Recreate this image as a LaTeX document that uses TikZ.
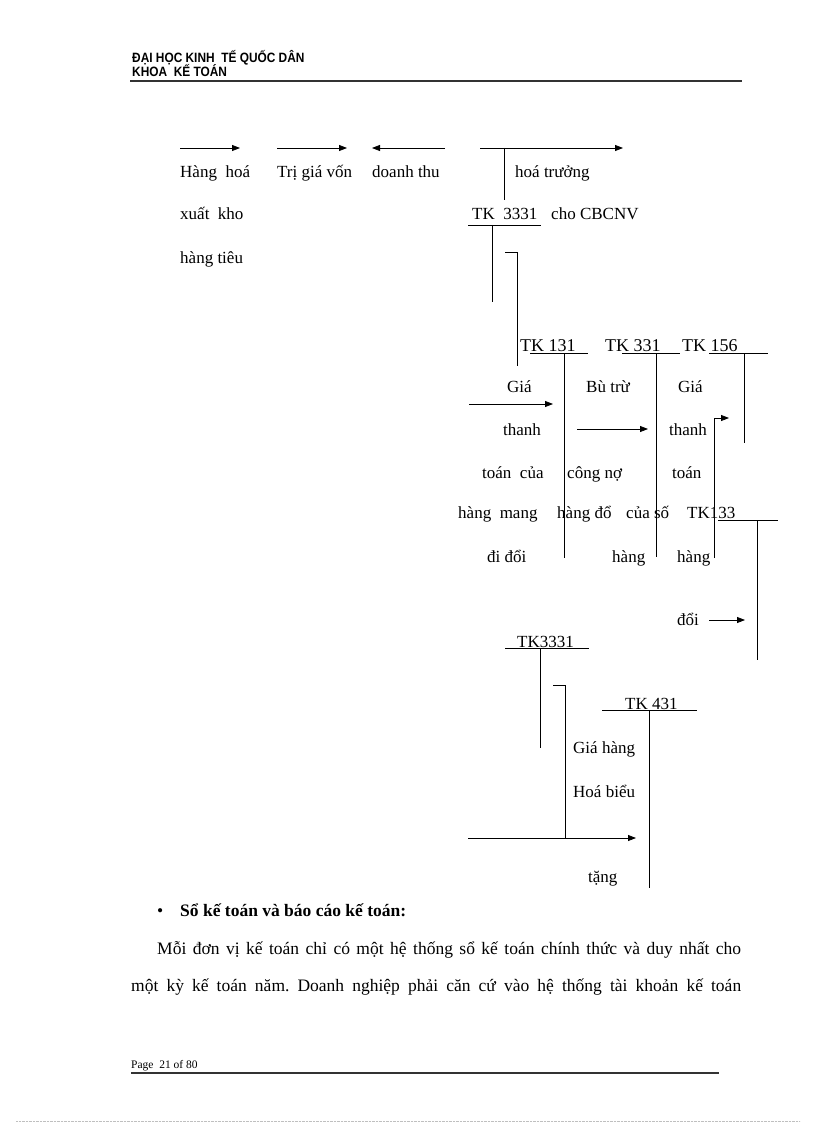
\documentclass[tikz,border=0pt]{standalone}
\usepackage{fontspec}
\setmainfont{Liberation Serif}
\newfontfamily\headfont[FakeStretch=0.88]{Liberation Sans}
\usetikzlibrary{arrows.meta}
\frenchspacing
\tikzset{
  lbl/.style={anchor=base west, inner sep=0pt, font=\fontsize{17}{20}\selectfont},
  tklbl/.style={anchor=base west, inner sep=0pt, font=\fontsize{18}{21}\selectfont},
  txtlbl/.style={anchor=base west, inner sep=0pt, font=\fontsize{17.5}{21}\selectfont},
  hdlbl/.style={anchor=base west, inner sep=0pt, font=\headfont\bfseries\fontsize{13.5}{15}\selectfont},
  tline/.style={line width=0.8pt},
  arr/.style={line width=0.8pt, -{Triangle[length=8pt,width=6pt]}},
}

\begin{document}
\begin{tikzpicture}[x=1pt,y=-1pt]
\useasboundingbox[fill=white] (0,0) rectangle (816,1123);

% header
\node[hdlbl] (uni) at (132,63) {ĐẠI HỌC KINH\ \ TẾ QUỐC DÂN};
\node[hdlbl] (khoa) at (132,77) {KHOA\ \ KẾ TOÁN};
\draw[line width=1.5pt, black!80] (130,81) -- (742,81);

% top row
\draw[arr] (180,148) -- (240,148);
\draw[arr] (277,148) -- (347,148);
\draw[arr] (445,148) -- (372,148);
\draw[arr] (480,148) -- (623,148);
\draw[tline] (504,148) -- (504,200);
\node[lbl] (hh) at (180,178) {Hàng\ \ hoá};
\node[lbl] (tgv) at (277,178) {Trị giá vốn};
\node[lbl] (dthu) at (372,178) {doanh thu};
\node[lbl] (htr) at (515,178) {hoá trưởng};
\node[lbl] (xk) at (180,220) {xuất\ \ kho};
\node[lbl] (tk3331a) at (472,220) {TK\ \ 3331};
\node[lbl] (cbcnv) at (551,220) {cho CBCNV};
\node[lbl] (htieu) at (180,263) {hàng tiêu};
\draw[tline] (468,225) -- (541,225);
\draw[tline] (492,225) -- (492,302);
\draw[tline] (505,252) -- (517,252) -- (517,366);

% TK 131, 331, 156
\node[tklbl] (tk131) at (520,351) {TK 131};
\node[tklbl] (tk331) at (605,351) {TK 331};
\node[tklbl] (tk156) at (682,351) {TK 156};
\draw[tline] (530,353) -- (588,353);
\draw[tline] (622,353) -- (680,353);
\draw[tline] (709,353) -- (768,353);
\draw[tline] (564,353) -- (564,558);
\draw[tline] (656,353) -- (656,557);
\draw[tline] (744,353) -- (744,443);

\node[lbl] (gia1) at (507,392) {Giá};
\node[lbl] (butru) at (586,392) {Bù trừ};
\node[lbl] (gia2) at (678,392) {Giá};
\draw[arr] (469,404) -- (553,404);
\node[lbl] (thanh1) at (503,435) {thanh};
\draw[arr] (577,429) -- (648,429);
\node[lbl] (thanh2) at (669,435) {thanh};
\draw[arr] (714,558) -- (714,418) -- (729,418);
\node[lbl] (toan1) at (482,478) {toán\ \ của};
\node[lbl] (congno) at (567,478) {công nợ};
\node[lbl] (toan2) at (672,478) {toán};
\node[lbl] (hmang) at (458,518) {hàng\ \ mang};
\node[lbl] (hdo) at (557,518) {hàng đổ};
\node[lbl] (cuaso) at (626,518) {của số};
\node[lbl] (tk133) at (687,518) {TK133};
\draw[tline] (718,520) -- (778,520);
\draw[tline] (757,520) -- (757,660);
\node[lbl] (didoi) at (487,562) {đi đổi};
\node[lbl] (hang1) at (612,562) {hàng};
\node[lbl] (hang2) at (677,562) {hàng};
\node[lbl] (doi) at (677,625) {đổi};
\draw[arr] (709,620) -- (745,620);

% TK3331, TK 431
\node[lbl] (tk3331b) at (517,647) {TK3331};
\draw[tline] (505,648) -- (589,648);
\draw[tline] (540,648) -- (540,748);
\draw[tline] (553,685) -- (565,685) -- (565,838);
\node[lbl] (tk431) at (625,709) {TK\ 431};
\draw[tline] (602,710) -- (697,710);
\draw[tline] (649,710) -- (649,888);
\node[lbl] (giahang) at (573,753) {Giá hàng};
\node[lbl] (hoabieu) at (573,797) {Hoá biểu};
\draw[arr] (468,838) -- (636,838);
\node[lbl] (tang) at (588,882) {tặng};

% body text
\node[txtlbl] (bul) at (157,916) {\textbullet};
\node[txtlbl] (sokt) at (180,916) {\bfseries Sổ kế toán và báo cáo kế toán:};
\node[txtlbl] (p1) at (157,954) {\makebox[584pt][s]{Mỗi đơn vị kế toán chỉ có một hệ thống sổ kế toán chính thức và duy nhất cho}};
\node[txtlbl] (p2) at (131,991) {\makebox[610pt][s]{một kỳ kế toán năm. Doanh nghiệp phải căn cứ vào hệ thống tài khoản kế toán}};

% footer
\node[anchor=base west, inner sep=0pt, font=\fontsize{11.5}{13}\selectfont] (pg) at (131,1068) {Page\ \ 21 of 80};
\draw[line width=1.2pt, black!80] (131,1073) -- (719,1073);
\draw[black!25, densely dotted] (16,1121) -- (800,1121);
\end{tikzpicture}
\end{document}
